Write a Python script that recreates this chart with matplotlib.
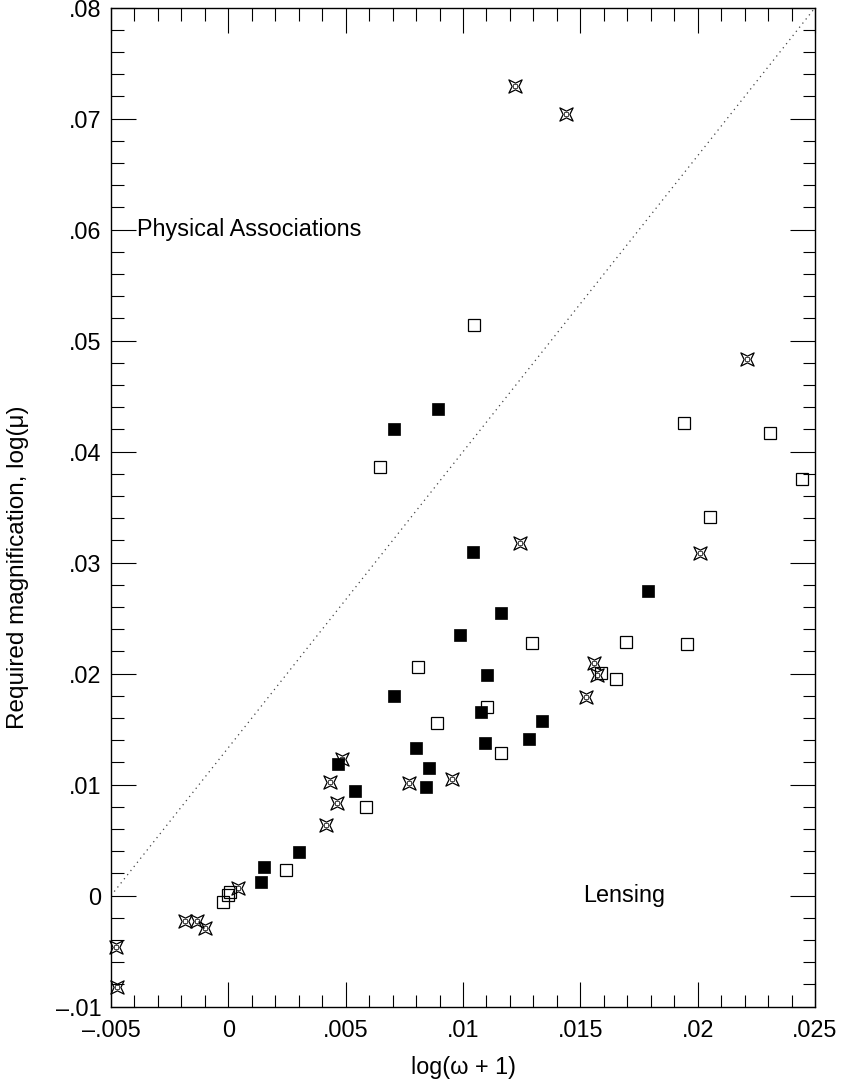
import matplotlib
matplotlib.use('Agg')
import matplotlib.pyplot as plt
from matplotlib.path import Path
import numpy as np

plt.rcParams.update({
    'font.family': ['Liberation Sans', 'DejaVu Sans'],
    'font.size': 16.8,
    'figure.facecolor': 'white',
})

# data: log(w+1) vs log(mu)
filled_x = [0.00139, 0.00151, 0.00301, 0.00467, 0.00540, 0.00706, 0.00800,
            0.00855, 0.00842, 0.00987, 0.01043, 0.00706, 0.00893, 0.01077,
            0.01094, 0.01101, 0.01162, 0.01281, 0.01337, 0.01787]
filled_y = [0.00126, 0.00261, 0.00396, 0.01186, 0.00946, 0.01799, 0.01333,
            0.01153, 0.00982, 0.02349, 0.03096, 0.04205, 0.04385, 0.01655,
            0.01378, 0.01988, 0.02550, 0.01412, 0.01574, 0.02745]

open_x = [-0.00021, 0.00000, 0.00007, 0.00246, 0.00585, 0.00646, 0.00810,
          0.00889, 0.01047, 0.01104, 0.01162, 0.01293, 0.01587, 0.01653,
          0.01696, 0.01942, 0.01955, 0.02054, 0.02310, 0.02446]
open_y = [-0.00054, 0.00006, 0.00030, 0.00232, 0.00796, 0.03862, 0.02058,
          0.01556, 0.05139, 0.01697, 0.01288, 0.02279, 0.02003, 0.01950,
          0.02288, 0.04256, 0.02268, 0.03414, 0.04166, 0.03754]

star_x = [-0.00479, -0.00476, -0.00185, -0.00132, -0.00099, 0.00043, 0.00415,
          0.00432, 0.00463, 0.00486, 0.00771, 0.00955, 0.01243, 0.01222,
          0.01439, 0.01524, 0.01557, 0.01571, 0.02010, 0.02210]
star_y = [-0.00460, -0.00820, -0.00225, -0.00228, -0.00294, 0.00072, 0.00637,
          0.01027, 0.00832, 0.01229, 0.01013, 0.01051, 0.03178, 0.07295,
          0.07042, 0.01793, 0.02099, 0.01988, 0.03085, 0.04835]

# dividing line
line_x = [-0.005, 0.025]
line_y = [0.0, 0.08]

x_ticks = [-0.005, 0, 0.005, 0.01, 0.015, 0.02, 0.025]
x_labels = ['\u2013.005', '0', '.005', '.01', '.015', '.02', '.025']
y_ticks = [-0.01, 0, 0.01, 0.02, 0.03, 0.04, 0.05, 0.06, 0.07, 0.08]
y_labels = ['\u2013.01', '0', '.01', '.02', '.03', '.04', '.05', '.06', '.07', '.08']

# 4-point star, tips on the diagonals
ang = np.arange(8) * np.pi / 4 + np.pi / 4
rad = np.where(np.arange(8) % 2 == 0, 1.0, 0.36)
verts = np.column_stack([rad * np.cos(ang), rad * np.sin(ang)])
verts = np.vstack([verts, verts[:1]])
star = Path(verts, closed=True)

fig = plt.figure(figsize=(8.42, 10.85), dpi=100)
ax = fig.add_axes([0.1318, 0.0722, 0.8362, 0.9207])

ax.plot(line_x, line_y, color='#444444', lw=0.9, ls=(0, (1, 3.2)))

ax.plot(open_x, open_y, 's', ms=8.4, mfc='none', mec='black', mew=0.9,
        clip_on=False)
ax.plot(filled_x, filled_y, 's', ms=8.4, mfc='black', mec='black', mew=0.5,
        clip_on=False)
ax.plot(star_x, star_y, ls='none', marker=star, ms=9.5, mfc='none',
        mec='black', mew=0.9, clip_on=False)
ax.plot(star_x, star_y, ls='none', marker='s', ms=2.6, mfc='none',
        mec='black', mew=0.5, clip_on=False)

ax.text(-0.0039, 0.06, 'Physical Associations', ha='left', va='center')
ax.text(0.0151, 0.0, 'Lensing', ha='left', va='center')

ax.set_xlim(-0.005, 0.025)
ax.set_ylim(-0.01, 0.08)
ax.set_xticks(x_ticks)
ax.set_xticklabels(x_labels)
ax.set_yticks(y_ticks)
ax.set_yticklabels(y_labels)
ax.set_xticks(np.arange(-0.005, 0.0251, 0.001), minor=True)
ax.set_yticks(np.arange(-0.01, 0.0801, 0.002), minor=True)

ax.tick_params(which='both', direction='in', top=True, right=True,
               width=0.8, color='black')
ax.tick_params(which='major', length=18, pad=7)
ax.tick_params(which='minor', length=9)
ax.tick_params(axis='x', which='major', pad=9)
for s in ax.spines.values():
    s.set_linewidth(1.0)

ax.set_xlabel('log(\u03c9 + 1)', labelpad=10)
ax.set_ylabel('Required magnification, log(\u03bc)', fontsize=17.5)
ax.yaxis.set_label_coords(-0.117, 0.44)

fig.savefig('out.png', dpi=100)
